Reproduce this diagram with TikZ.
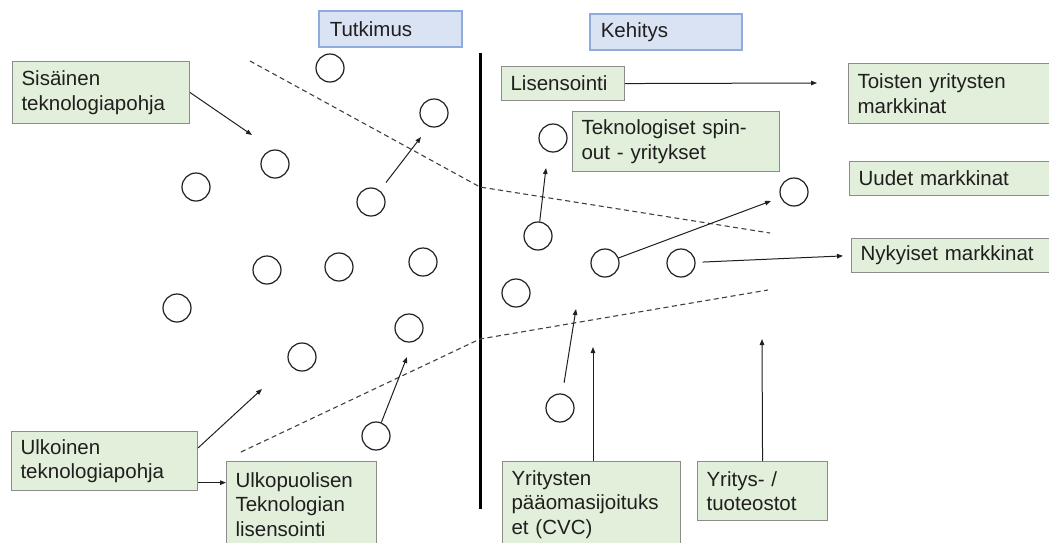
\documentclass[tikz,border=0pt]{standalone}
\usepackage{fontspec}
\setmainfont{Liberation Sans}
\usetikzlibrary{arrows.meta}
\definecolor{boxgreen}{HTML}{E2EFDA}
\definecolor{boxgreenline}{HTML}{8C8C8C}
\definecolor{boxblue}{HTML}{DAE3F3}
\definecolor{boxblueline}{HTML}{8FAADC}
\definecolor{ink}{HTML}{1F1F1F}

\begin{document}
\begin{tikzpicture}[x=1pt,y=-1pt,
  font=\fontsize{20.5}{24.5}\selectfont,
  greenbox/.style={draw=boxgreenline, fill=boxgreen, line width=1.1pt,
    anchor=north west, align=left, inner xsep=9pt, inner ysep=0pt, text=ink},
  bluebox/.style={draw=boxblueline, fill=boxblue, line width=1.6pt,
    anchor=north west, align=left, inner xsep=11pt, inner ysep=0pt, text=ink},
  dot/.style={circle, draw=ink, line width=1.2pt, minimum size=28pt, inner sep=0pt},
  arr/.style={draw=ink, line width=1pt, -{Triangle[length=6pt,width=4.5pt]}},
  boundary/.style={draw=ink!85, line width=1.1pt, dash pattern=on 5pt off 3.5pt},
  divider/.style={draw=black, line width=3pt}
]
\useasboundingbox (0,0) rectangle (1049,542);
\clip (0,0) rectangle (1049,542);

% phase headers
\node[bluebox, text width=121pt, minimum height=36pt] (tut) at (318,10) {Tutkimus};
\node[bluebox, text width=130pt, minimum height=36pt] (keh) at (589,13) {Kehitys};

% research / development divider
\coordinate (v1) at (480,53);
\coordinate (v2) at (480,509);
\draw[divider] (v1) -- (v2);

% funnel boundaries
\coordinate (d1) at (250,61);
\coordinate (d2) at (480,187);
\coordinate (d3) at (770,233);
\coordinate (d4) at (241,452);
\coordinate (d5) at (480,339);
\coordinate (d6) at (768,290);
\draw[boundary] (d1) -- (d2) -- (d3);
\draw[boundary] (d4) -- (d5) -- (d6);

% projects
\node[dot] (c1)  at (330,68)  {};
\node[dot] (c2)  at (434,113) {};
\node[dot] (c3)  at (275,164) {};
\node[dot] (c4)  at (196,187) {};
\node[dot] (c5)  at (371,202) {};
\node[dot] (c6)  at (267,270) {};
\node[dot] (c7)  at (339,267) {};
\node[dot] (c8)  at (423,262) {};
\node[dot] (c9)  at (177,308) {};
\node[dot] (c10) at (409,328) {};
\node[dot] (c11) at (302,357) {};
\node[dot] (c12) at (376,436) {};
\node[dot] (c13) at (553,138) {};
\node[dot] (c14) at (538,236) {};
\node[dot] (c15) at (605,263) {};
\node[dot] (c16) at (681,263) {};
\node[dot] (c17) at (794,192) {};
\node[dot] (c18) at (516,293) {};
\node[dot] (c19) at (560,408) {};

% labels
\node[greenbox, text width=159pt, minimum height=62pt] (sis) at (12,61)
  {Sisäinen\\teknologiapohja};
\node[greenbox, text width=168pt, minimum height=59pt] (ulk) at (11,431)
  {Ulkoinen\\teknologiapohja};
\node[greenbox, text width=132pt, minimum height=86pt] (upk) at (226,461)
  {Ulkopuolisen\\Teknologian\\lisensointi};
\node[greenbox, text width=105pt, minimum height=34pt] (lis) at (501,66)
  {Lisensointi};
\node[greenbox, text width=189pt, minimum height=60pt] (spin) at (572,111)
  {Teknologiset spin-\\out - yritykset};
\node[greenbox, text width=197pt, minimum height=60pt] (toi) at (848,63)
  {Toisten yritysten\\markkinat};
\node[greenbox, text width=197pt, minimum height=34pt] (uud) at (849,161)
  {Uudet markkinat};
\node[greenbox, text width=197pt, minimum height=34pt] (nyk) at (851,238)
  {Nykyiset markkinat};
\node[greenbox, text width=160pt, minimum height=86pt] (yrit) at (502,461)
  {Yritysten\\pääomasijoituks\\et (CVC)};
\node[greenbox, text width=112pt, minimum height=59pt] (yos) at (697,461)
  {Yritys- /\\tuoteostot};

% arrow targets
\coordinate (a1)  at (252,135);
\coordinate (a2)  at (421,137);
\coordinate (a3)  at (262,389);
\coordinate (a5)  at (407,357);
\coordinate (a6)  at (817,83);
\coordinate (a7)  at (546,168);
\coordinate (a8)  at (771,201);
\coordinate (a10) at (576,309);
\coordinate (a11) at (593,347);
\coordinate (a12) at (762,339);

% flows
\draw[arr] (sis.east) -- (a1);
\draw[arr, shorten <=10pt] (c5) -- (a2);
\draw[arr] (ulk.8) -- (a3);
\draw[arr] (ulk.-13) -- (ulk.-13 -| upk.west);
\draw[arr] (c12) -- (a5);
\draw[arr] (lis.east) -- (a6);
\draw[arr] (c14) -- (a7);
\draw[arr] (c15) -- (a8);
\draw[arr, shorten <=7pt, shorten >=8pt] (c16) -- (nyk.west);
\draw[arr, shorten <=11pt] (c19) -- (a10);
\draw[arr] (yrit.north -| a11) -- (a11);
\draw[arr] (yos.north) -- (a12);
\end{tikzpicture}
\end{document}
